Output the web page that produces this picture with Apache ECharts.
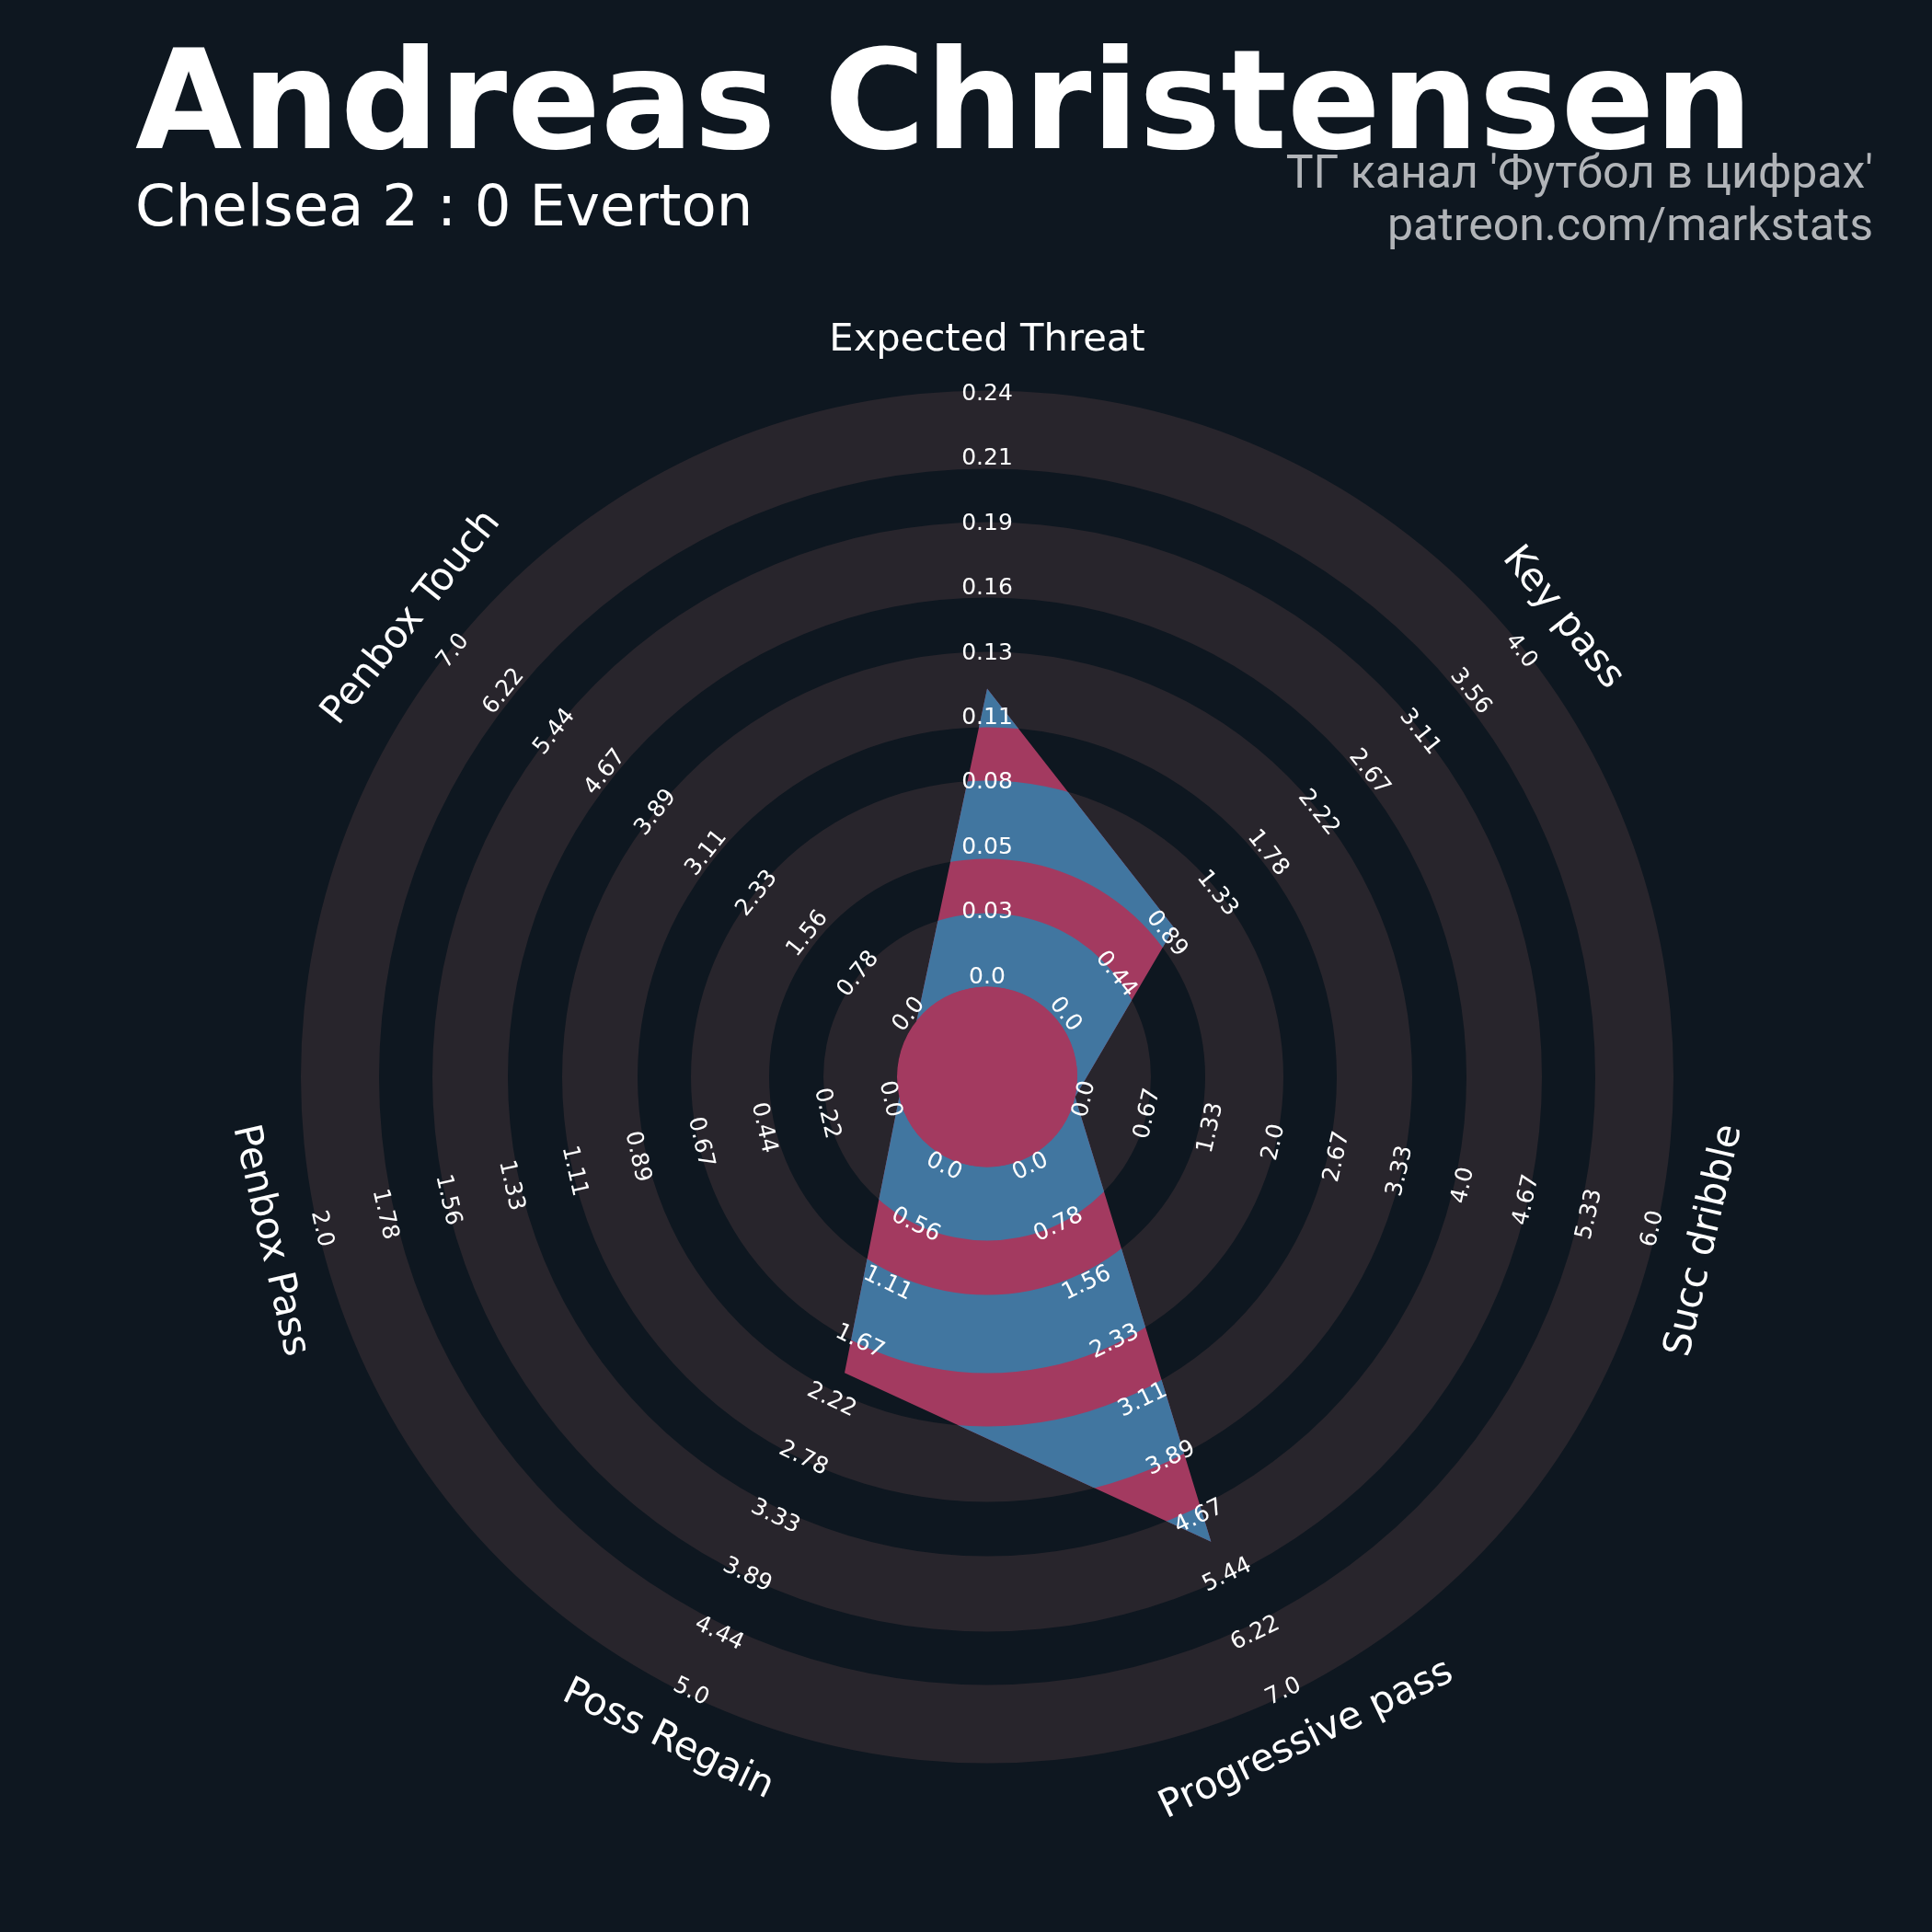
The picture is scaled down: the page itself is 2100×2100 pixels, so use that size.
<!DOCTYPE html>
<html><head><meta charset="utf-8">
<script src="https://cdn.jsdelivr.net/npm/echarts@6/dist/echarts.min.js"></script>
<style>html,body{margin:0;padding:0;background:#0e1720;} #c{width:2100px;height:2100px;}</style>
</head><body><div id="c"></div>
<script>
// ---------- data ----------
const params = ['Expected Threat', 'Key pass', 'Succ dribble', 'Progressive pass', 'Poss Regain', 'Penbox Pass', 'Penbox Touch'];
const lowRange = [0, 0, 0, 0, 0, 0, 0];
const highRange = [0.24, 4, 6, 7, 5, 2, 7];
const values = [0.12, 1, 0, 5, 2, 0, 0];
const tickLabels = [
  ['0.0', '0.03', '0.05', '0.08', '0.11', '0.13', '0.16', '0.19', '0.21', '0.24'],
  ['0.0', '0.44', '0.89', '1.33', '1.78', '2.22', '2.67', '3.11', '3.56', '4.0'],
  ['0.0', '0.67', '1.33', '2.0', '2.67', '3.33', '4.0', '4.67', '5.33', '6.0'],
  ['0.0', '0.78', '1.56', '2.33', '3.11', '3.89', '4.67', '5.44', '6.22', '7.0'],
  ['0.0', '0.56', '1.11', '1.67', '2.22', '2.78', '3.33', '3.89', '4.44', '5.0'],
  ['0.0', '0.22', '0.44', '0.67', '0.89', '1.11', '1.33', '1.56', '1.78', '2.0'],
  ['0.0', '0.78', '1.56', '2.33', '3.11', '3.89', '4.67', '5.44', '6.22', '7.0']
];
const titleText = 'Andreas Christensen';
const subtitleText = 'Chelsea 2 : 0 Everton';
const creditLines = ["ТГ канал 'Футбол в цифрах'", 'patreon.com/markstats'];

// ---------- layout / style ----------
const OUTER_PX = 746;
const CENTER = [1073, 1170.5];
const R0 = 98 / OUTER_PX;                       // center circle (value = min)
const BANDS = [98, 178, 237, 322, 380, 462, 521, 603, 661, 746].map(v => v / OUTER_PX);
const TICK_R0 = 108.5 / OUTER_PX, TICK_STEP = 70.4 / OUTER_PX;
const PARAM_R = 800 / OUTER_PX;
const BG = '#0e1720', RING = '#28252c', RED = '#a33a60', BLUE = '#4176a0';
const N = params.length;

function norm(v, i) { return R0 + (v - lowRange[i]) / (highRange[i] - lowRange[i]) * (1 - R0); }
function textRot(i) {
  let r = -i * 360 / N;
  while (r <= -90) r += 180;
  while (r > 90) r -= 180;
  return r * Math.PI / 180;
}
function pxRadius(api, rn) {
  const c = api.coord([0, 0]);
  const p = api.coord([rn, 0]);
  return Math.hypot(p[0] - c[0], p[1] - c[1]);
}

const ringData = [];
for (let k = 0; k < BANDS.length - 1; k += 2) ringData.push([BANDS[k], BANDS[k + 1]]);

const radarData = values.map((v, i) => [norm(v, i), i]);

const tickData = [];
tickLabels.forEach((arr, i) => arr.forEach((t, j) => tickData.push({ value: [TICK_R0 + j * TICK_STEP, i], name: t })));

const paramData = params.map((p, i) => ({ value: [PARAM_R, i], name: p }));

const chart = echarts.init(document.getElementById('c'), null, { renderer: 'canvas' });
chart.setOption({
  backgroundColor: BG,
  animation: false,
  polar: { center: CENTER, radius: OUTER_PX },
  radiusAxis: { type: 'value', min: 0, max: 1, show: false },
  angleAxis: { type: 'value', min: 0, max: N, startAngle: 90, clockwise: true, show: false },
  graphic: [
    { type: 'text', x: 147, y: 122, style: { text: titleText, fill: '#ffffff', font: 'bold 150px "DejaVu Sans"', textAlign: 'left', textVerticalAlign: 'middle' } },
    { type: 'text', x: 147, y: 229, style: { text: subtitleText, fill: '#ffffff', font: '62.5px "DejaVu Sans"', textAlign: 'left', textVerticalAlign: 'middle' } },
    { type: 'text', x: 2036, y: 191, style: { text: creditLines[0], fill: '#b1b4b8', font: '50px Roboto', textAlign: 'right', textVerticalAlign: 'middle' } },
    { type: 'text', x: 2036, y: 248, style: { text: creditLines[1], fill: '#b1b4b8', font: '50px Roboto', textAlign: 'right', textVerticalAlign: 'middle' } }
  ],
  series: [
    {
      type: 'custom', coordinateSystem: 'polar', z: 1, silent: true,
      data: ringData,
      renderItem: function (p, api) {
        const c = api.coord([0, 0]);
        return { type: 'ring', shape: { cx: c[0], cy: c[1], r0: pxRadius(api, api.value(0)), r: pxRadius(api, api.value(1)) }, style: { fill: RING } };
      }
    },
    {
      type: 'custom', coordinateSystem: 'polar', z: 2, silent: true,
      data: radarData,
      renderItem: function (p, api) {
        if (p.dataIndex !== 0) return null;
        const c = api.coord([0, 0]);
        const pts = radarData.map(d => api.coord(d));
        const rings = ringData.map(b => ({
          type: 'ring', shape: { cx: c[0], cy: c[1], r0: pxRadius(api, b[0]), r: pxRadius(api, b[1]) }, style: { fill: BLUE }
        }));
        return {
          type: 'group', children: [
            { type: 'polygon', shape: { points: pts }, style: { fill: RED } },
            { type: 'group', children: rings, clipPath: { type: 'polygon', shape: { points: pts } } },
            { type: 'circle', shape: { cx: c[0], cy: c[1], r: pxRadius(api, R0) }, style: { fill: RED } }
          ]
        };
      }
    },
    {
      type: 'custom', coordinateSystem: 'polar', z: 3, silent: true,
      data: tickData,
      renderItem: function (p, api) {
        const pos = api.coord([api.value(0), api.value(1)]);
        const i = api.value(1);
        return { type: 'text', x: pos[0], y: pos[1], rotation: textRot(i),
          style: { text: tickData[p.dataIndex].name, fill: '#ffffff', font: '25px "DejaVu Sans"', align: 'center', verticalAlign: 'middle' } };
      }
    },
    {
      type: 'custom', coordinateSystem: 'polar', z: 3, silent: true,
      data: paramData,
      renderItem: function (p, api) {
        const pos = api.coord([api.value(0), api.value(1)]);
        const i = api.value(1);
        return { type: 'text', x: pos[0], y: pos[1], rotation: textRot(i),
          style: { text: paramData[p.dataIndex].name, fill: '#ffffff', font: '41.7px "DejaVu Sans"', align: 'center', verticalAlign: 'middle' } };
      }
    }
  ]
});
</script>
</body></html>
